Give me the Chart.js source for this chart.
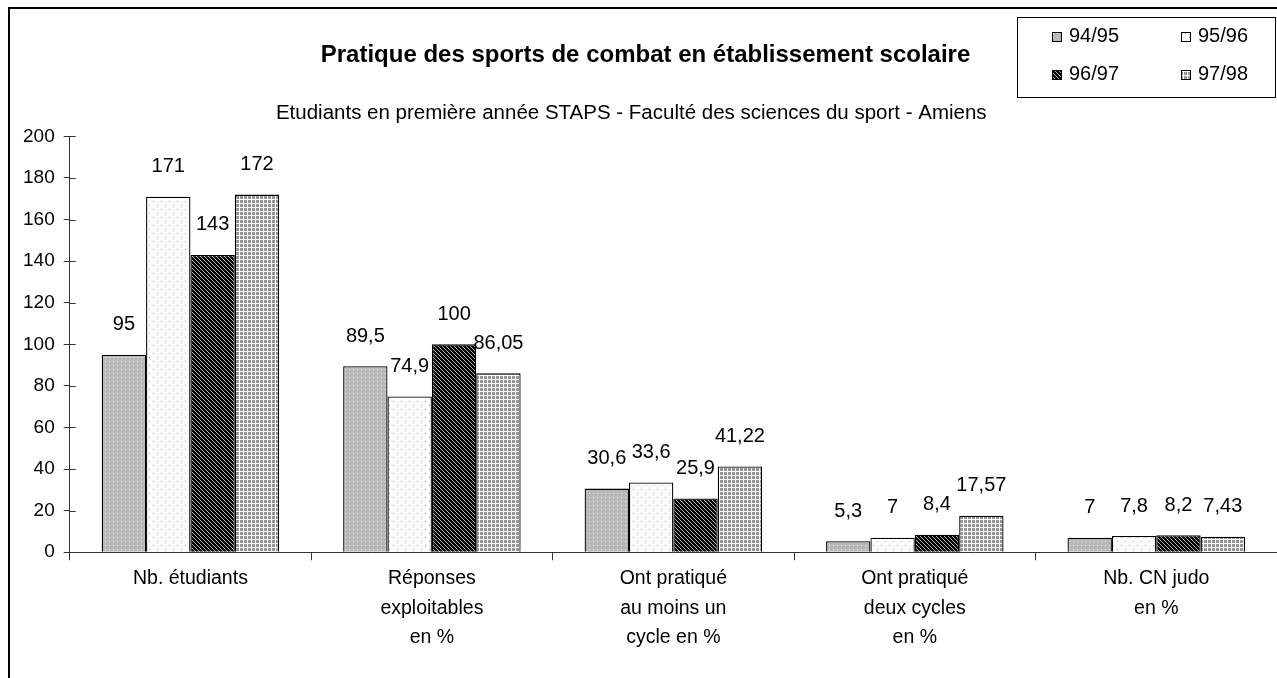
<!DOCTYPE html>
<html>
<head>
<meta charset="utf-8">
<title>Pratique des sports de combat</title>
<script src="https://cdn.jsdelivr.net/npm/chart.js@4"></script>
<style>
    html, body { margin: 0; padding: 0; background: #fff; }
    #wrap { position: relative; width: 1277px; height: 678px; }
</style>
</head>
<body>
<div id="wrap"><canvas id="myChart"></canvas></div>
<script>
const categories = [
    "Nb. étudiants",
    ["Réponses", "exploitables", "en %"],
    ["Ont pratiqué", "au moins un", "cycle en %"],
    ["Ont pratiqué", "deux cycles", "en %"],
    ["Nb. CN judo", "en %"]
];
const seasons = ["94/95", "95/96", "96/97", "97/98"];
const s9495 = [95, 89.5, 30.6, 5.3, 7];
const s9596 = [171, 74.9, 33.6, 7, 7.8];
const s9697 = [143, 100, 25.9, 8.4, 8.2];
const s9798 = [172, 86.05, 41.22, 17.57, 7.43];
const yTicks = [0, 20, 40, 60, 80, 100, 120, 140, 160, 180, 200];

const FONT = "'Liberation Sans', Arial, sans-serif";

(() => {
    'use strict';
    const canvas = document.getElementById("myChart");
    const ctx = canvas.getContext("2d");

    // small tiles for the old-style bar fills
    function tile(w, h, paint) {
        const c = document.createElement("canvas");
        c.width = w;
        c.height = h;
        paint(c.getContext("2d"));
        return ctx.createPattern(c, "repeat");
    }

    const fills = [
        tile(4, 4, g => {
            g.fillStyle = "#b8b8b8"; g.fillRect(0, 0, 4, 4);
            g.fillStyle = "#eeeeee"; g.fillRect(1, 1, 1, 1);
        }),
        tile(8, 8, g => {
            g.fillStyle = "#ffffff"; g.fillRect(0, 0, 8, 8);
            g.fillStyle = "#9a9a9a"; g.fillRect(1, 1, 1, 1); g.fillRect(5, 5, 1, 1);
        }),
        tile(4, 4, g => {
            g.fillStyle = "#000000"; g.fillRect(0, 0, 4, 4);
            g.fillStyle = "#b0b0b0";
            for (let i = 0; i < 4; i++) g.fillRect(i, i, 1, 1);
        }),
        tile(4, 4, g => {
            g.fillStyle = "#ffffff"; g.fillRect(0, 0, 4, 4);
            g.fillStyle = "#969696"; g.fillRect(0, 0, 3, 3);
        })
    ];

    const series = [s9495, s9596, s9697, s9798];

    const frame = {
        id: "frame",
        beforeDraw(chart) {
            const c = chart.ctx;
            c.save();
            c.fillStyle = "#fff";
            c.fillRect(0, 0, chart.width, chart.height);
            c.strokeStyle = "#000";
            c.lineWidth = 2;
            c.strokeRect(9, 8, chart.width + 20, chart.height + 20);
            c.restore();
        }
    };

    const crossTicks = {
        id: "crossTicks",
        afterDraw(chart) {
            const y = chart.scales.y;
            const c = chart.ctx;
            c.save();
            c.strokeStyle = "#333";
            c.lineWidth = 1;
            y.ticks.forEach(t => {
                const py = Math.round(y.getPixelForValue(t.value)) + 0.5;
                c.beginPath();
                c.moveTo(y.right, py);
                c.lineTo(y.right + 6, py);
                c.stroke();
            });
            c.restore();
        }
    };

    const valueLabels = {
        id: "valueLabels",
        afterDatasetsDraw(chart) {
            const c = chart.ctx;
            c.save();
            c.font = "20px " + FONT;
            c.fillStyle = "#000";
            c.textAlign = "center";
            c.textBaseline = "middle";
            chart.data.datasets.forEach((ds, i) => {
                chart.getDatasetMeta(i).data.forEach((bar, j) => {
                    c.fillText(String(ds.data[j]).replace(".", ","), bar.x, bar.y - 30);
                });
            });
            c.restore();
        }
    };

    const legendBox = {
        id: "legendBox",
        afterDraw(chart) {
            const c = chart.ctx;
            c.save();
            c.fillStyle = "#fff";
            c.fillRect(1017, 17, 258, 80);
            c.strokeStyle = "#000";
            c.lineWidth = 1;
            c.strokeRect(1017.5, 17.5, 258, 80);
            c.font = "20px " + FONT;
            c.textBaseline = "middle";
            chart.data.datasets.forEach((ds, i) => {
                const x = i % 2 === 0 ? 1052 : 1181;
                const y = i < 2 ? 36 : 74;
                c.fillStyle = ds.backgroundColor;
                c.fillRect(x, y - 4, 10, 10);
                c.strokeStyle = "#000";
                c.strokeRect(x + 0.5, y - 3.5, 9, 9);
                c.fillStyle = "#000";
                c.fillText(ds.label, x + 17, y);
            });
            c.restore();
        }
    };

    new Chart(ctx, {
        type: "bar",
        data: {
            labels: categories,
            datasets: seasons.map((label, i) => ({
                label: label,
                data: series[i],
                backgroundColor: fills[i],
                borderColor: "#000",
                borderWidth: 1.3,
                borderSkipped: "bottom"
            }))
        },
        options: {
            responsive: true,
            maintainAspectRatio: false,
            animation: false,
            events: [],
            layout: {
                padding: { left: 14, right: 0, top: 0, bottom: 22 }
            },
            datasets: {
                bar: {
                    categoryPercentage: 0.735,
                    barPercentage: 1
                }
            },
            plugins: {
                legend: { display: false },
                tooltip: { enabled: false },
                title: {
                    display: true,
                    text: "Pratique des sports de combat en établissement scolaire",
                    color: "#000",
                    font: { family: FONT, size: 24, weight: "bold", lineHeight: 1.2 },
                    padding: { top: 41, bottom: 31 }
                },
                subtitle: {
                    display: true,
                    // trailing spaces nudge it left like the original
                    text: "Etudiants en première année STAPS - Faculté des sciences du sport - Amiens     ",
                    color: "#000",
                    font: { family: FONT, size: 20.5, lineHeight: 1.2 },
                    padding: { top: 0, bottom: 11 }
                }
            },
            scales: {
                x: {
                    grid: {
                        display: true,
                        offset: true,
                        drawOnChartArea: false,
                        tickLength: 8,
                        color: "#333"
                    },
                    border: { display: true, color: "#333", width: 1 },
                    ticks: {
                        color: "#000",
                        padding: 4,
                        font: { family: FONT, size: 19.5, lineHeight: 1.5 }
                    }
                },
                y: {
                    min: 0,
                    max: 200,
                    afterBuildTicks(scale) {
                        scale.ticks = yTicks.map(v => ({ value: v }));
                    },
                    grid: {
                        display: true,
                        drawOnChartArea: false,
                        tickLength: 6,
                        color: "#333"
                    },
                    border: { display: true, color: "#333", width: 1 },
                    ticks: {
                        color: "#000",
                        padding: 9,
                        font: { family: FONT, size: 19 }
                    }
                }
            }
        },
        plugins: [frame, crossTicks, valueLabels, legendBox]
    });
})();
</script>
</body>
</html>
